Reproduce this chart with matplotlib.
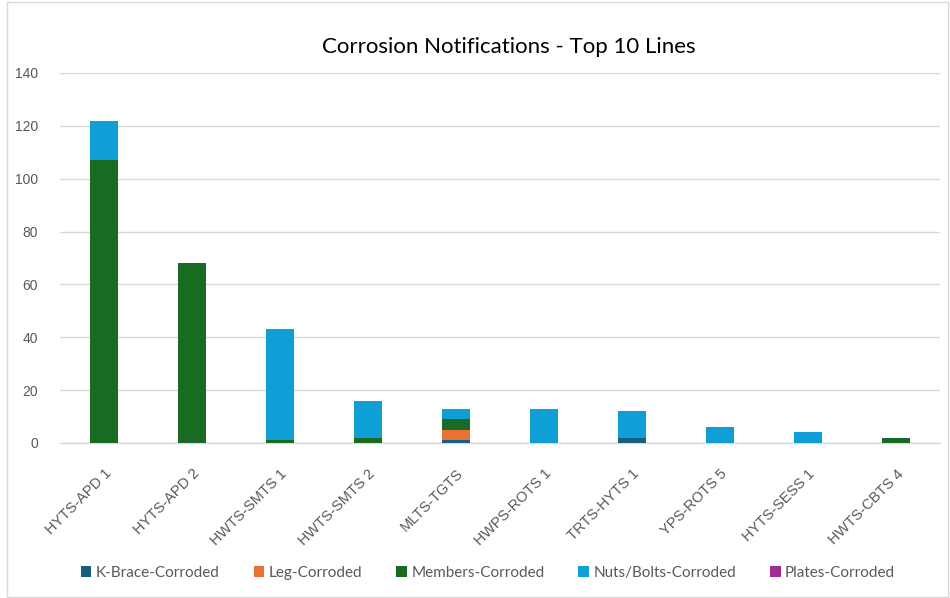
import matplotlib.pyplot as plt
import numpy as np
from matplotlib.patches import Rectangle

lines = ["HYTS-APD 1", "HYTS-APD 2", "HWTS-SMTS 1", "HWTS-SMTS 2", "MLTS-TGTS",
         "HWPS-ROTS 1", "TRTS-HYTS 1", "YPS-ROTS 5", "HYTS-SESS 1", "HWTS-CBTS 4"]
kbrace = [0, 0, 0, 0, 1, 0, 2, 0, 0, 0]
leg = [0, 0, 0, 0, 4, 0, 0, 0, 0, 0]
members = [107, 68, 1, 2, 4, 0, 0, 0, 0, 2]
nuts = [15, 0, 42, 14, 4, 13, 10, 6, 4, 0]
plates = [0, 0, 0, 0, 0, 0, 0, 0, 0, 0]

series = [
    ("K-Brace-Corroded", kbrace, "#156082"),
    ("Leg-Corroded", leg, "#E97132"),
    ("Members-Corroded", members, "#196B24"),
    ("Nuts/Bolts-Corroded", nuts, "#0F9ED5"),
    ("Plates-Corroded", plates, "#A02B93"),
]

fig = plt.figure(figsize=(9.5, 5.98), dpi=100)
ax = fig.add_axes([60 / 950, 1 - 443 / 598, 880 / 950, 370 / 598])

x = np.arange(len(lines))
bottom = np.zeros(len(lines))
for name, vals, col in series:
    vals = np.array(vals, dtype=float)
    ax.bar(x, vals, 0.31, bottom=bottom, color=col, label=name, zorder=3)
    bottom += vals

ax.set_xlim(-0.5, len(lines) - 0.5)
ax.set_ylim(0, 140)
ax.set_yticks(range(0, 141, 20))
ax.grid(axis="y", color="#D9D9D9", lw=1, zorder=0)
for s in ["top", "right", "left"]:
    ax.spines[s].set_visible(False)
ax.spines["bottom"].set_color("#D9D9D9")
ax.spines["bottom"].set_linewidth(1)
ax.tick_params(length=0, colors="#595959", labelsize=10)
ax.tick_params(axis="y", pad=16)
ax.set_xticks(x)
ax.set_xticklabels(lines, rotation=45, ha="right", rotation_mode="anchor",
                   fontsize=10.5, family="Liberation Sans", color="#595959")
for t in ax.get_yticklabels():
    t.set_family("Liberation Sans")
ax.tick_params(axis="x", pad=17)

fig.text(509 / 950, 1 - 47 / 598, "Corrosion Notifications - Top 10 Lines",
         ha="center", va="center", fontsize=16, family="Lato", color="#000000")

handles, labels = ax.get_legend_handles_labels()
fig.legend(handles, labels, loc="center", bbox_to_anchor=(488 / 950, 1 - 573 / 598),
           ncol=5, frameon=False, handlelength=0.7, handleheight=0.7,
           handletextpad=0.3, columnspacing=2.2,
           prop={"family": "Lato", "size": 11}, labelcolor="#595959")

fig.add_artist(Rectangle((7 / 950, 1 / 598), 941 / 950, 595 / 598,
                         transform=fig.transFigure, fill=False,
                         edgecolor="#D9D9D9", lw=1))

plt.savefig("out.png", dpi=100)
